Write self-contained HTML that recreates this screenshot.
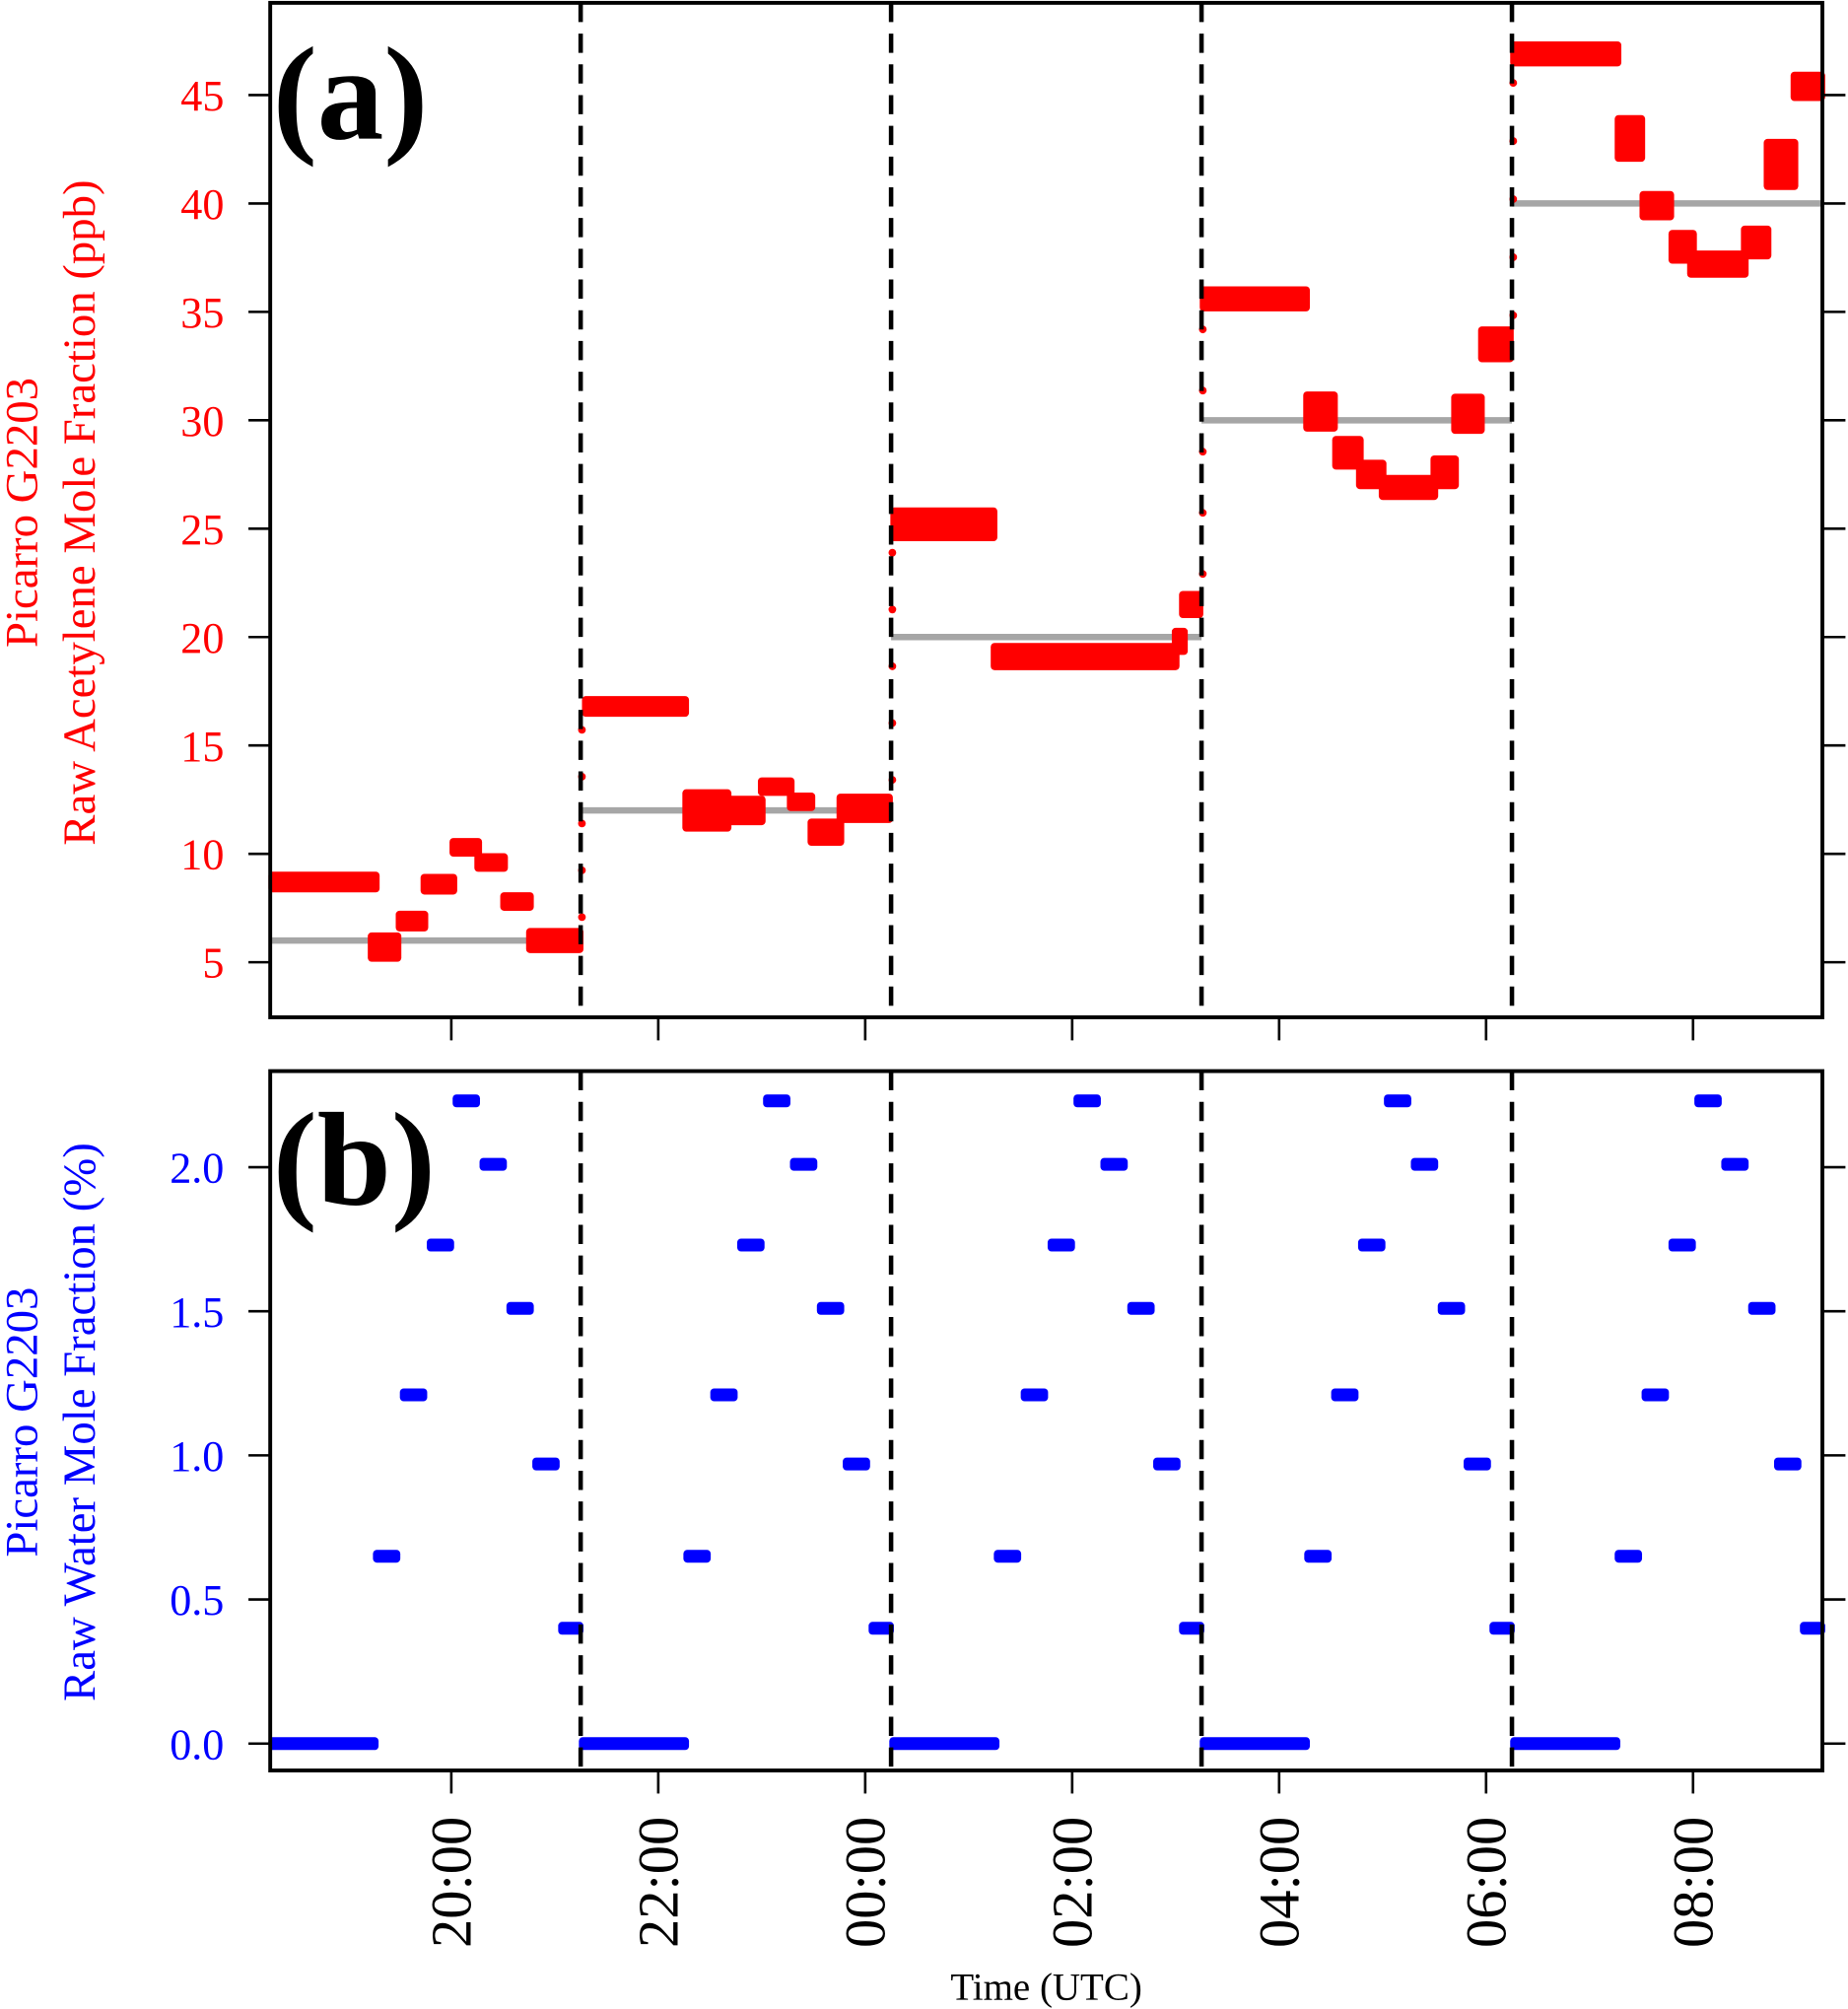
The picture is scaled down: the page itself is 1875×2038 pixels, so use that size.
<!DOCTYPE html>
<html><head><meta charset="utf-8"><style>
html,body{margin:0;padding:0;background:#fff}
svg{display:block}
text{font-family:"Liberation Serif",serif}
</style></head><body>
<svg id="chart" width="1875" height="2038" viewBox="0 0 1443 1568" xmlns="http://www.w3.org/2000/svg">
<g id="layer"></g>
</svg>
<script>
// ---- data ----
var xTickLabels = ["20:00","22:00","00:00","02:00","04:00","06:00","08:00"];
var xTickHours = [20,22,24,26,28,30,32];
var dashHours = [21.25,24.25,27.25,30.25];
var yTicksA = [5,10,15,20,25,30,35,40,45];
var yTicksB = [0.0,0.5,1.0,1.5,2.0];
var yTickLabelsB = ["0.0","0.5","1.0","1.5","2.0"];
// acetylene plateaus: start hour, end hour, value (ppb)
var acStart = [18.27,19.23,19.50,19.74,20.02,20.26,20.51,20.76, 21.30,22.27,22.68,23.00,23.28,23.48,23.76, 24.28,25.25,27.00,27.07, 27.27,28.27,28.55,28.78,29.00,29.50,29.70,29.96, 30.27,31.28,31.52,31.80,31.98,32.50,32.72,32.98];
var acEnd   = [19.27,19.48,19.74,20.02,20.26,20.51,20.76,21.24, 22.26,22.67,23.00,23.28,23.48,23.76,24.23, 25.24,27.00,27.08,27.23, 28.26,28.53,28.78,29.00,29.50,29.70,29.95,30.23, 31.27,31.50,31.78,32.00,32.50,32.72,32.98,33.24];
var acValue = [8.7,5.7,6.9,8.6,10.3,9.6,7.8,6.0, 16.8,12.0,12.0,13.1,12.4,11.0,12.1, 25.2,19.1,19.8,21.5, 35.6,30.4,28.5,27.5,26.9,27.6,30.3,33.5, 46.9,43.0,39.9,38.0,37.2,38.2,41.8,45.4];
var acSpread = [0.6,1.0,0.6,0.6,0.5,0.5,0.5,0.8, 0.6,1.6,1.0,0.5,0.5,0.9,1.0, 1.2,0.9,0.9,0.9, 0.8,1.5,1.2,1.0,0.8,1.2,1.5,1.3, 0.8,1.8,1.0,1.2,0.9,1.2,2.0,1.0];
// reference levels
var refStart = [18.25,21.25,24.25,27.25,30.25];
var refEnd = [21.25,24.25,27.25,30.25,33.25];
var refValue = [6,12,20,30,40];
// water steps per period (offset hours within period)
var periodStart = [18.25,21.25,24.25,27.25,30.25];
var waterOffStart = [0.02,1.03,1.29,1.55,1.80,2.06,2.32,2.57,2.82];
var waterOffEnd   = [1.01,1.22,1.48,1.74,1.99,2.25,2.51,2.76,2.99];
var waterValue = [0.00,0.65,1.21,1.73,2.23,2.01,1.51,0.97,0.40];

// ---- axes ----
var X0=211,X1=1423,T0=18.25,T1=33.25;
function xs(t){return X0+(t-T0)*(X1-X0)/(T1-T0);}
var A_top=2,A_bot=794;
function ya(v){return 751-(v-5)*(751-74)/40;}
var B_top=836,B_bot=1382;
function yb(v){return 1361-v*(1361-911)/2;}

var NS="http://www.w3.org/2000/svg";
var g=document.getElementById('layer');
function el(tag,attrs,parent){var e=document.createElementNS(NS,tag);for(var k in attrs)e.setAttribute(k,attrs[k]);(parent||g).appendChild(e);return e;}

for(var i=0;i<refValue.length;i++){
  var r=el('line',{x1:xs(refStart[i]),x2:xs(refEnd[i]),y1:ya(refValue[i]),y2:ya(refValue[i]),stroke:'#a6a6a6','stroke-width':5});
  
  
}
for(var i=0;i<acValue.length;i++){
  var h=Math.abs(ya(acValue[i]+acSpread[i]/2)-ya(acValue[i]-acSpread[i]/2))+6;
  var rc=el('rect',{x:xs(acStart[i])-3,y:ya(acValue[i])-h/2,width:xs(acEnd[i])-xs(acStart[i])+6,height:h,rx:3,fill:'#ff0000'});
  
  
}
for(var i=0;i<dashHours.length;i++){
  var lo=acValue[[7,14,18,26][i]], hi=acValue[[8,15,19,27][i]];
  for(var k=0;k<5;k++){
    var v=lo+(hi-lo)*(k+0.5)/5;
    var c=el('circle',{cx:xs(dashHours[i])+1,cy:ya(v),r:3,fill:'#ff0000'});
    
    
  }
}
for(var p=0;p<periodStart.length;p++){
  for(var i=0;i<waterValue.length;i++){
    var w=el('rect',{x:xs(periodStart[p]+waterOffStart[i])-3,y:yb(waterValue[i])-5,width:xs(periodStart[p]+waterOffEnd[i])-xs(periodStart[p]+waterOffStart[i])+6,height:10,rx:3,fill:'#0000ff'});
    
    
  }
}
for(var i=0;i<dashHours.length;i++){
  [[A_top,A_bot],[B_top,B_bot]].forEach(function(r){
    var d=el('line',{x1:xs(dashHours[i]),x2:xs(dashHours[i]),y1:r[0],y2:r[1],stroke:'#000','stroke-width':3.5,'stroke-dasharray':'15,9'});
    
    
  });
}
var fa=el('rect',{x:X0,y:A_top,width:X1-X0,height:A_bot-A_top,fill:'none',stroke:'#000','stroke-width':3});


var fb=el('rect',{x:X0,y:B_top,width:X1-X0,height:B_bot-B_top,fill:'none',stroke:'#000','stroke-width':3});


for(var i=0;i<yTicksA.length;i++){
  var y=ya(yTicksA[i]);
  el('line',{x1:X0-17,x2:X0,y1:y,y2:y,stroke:'#000','stroke-width':2});
  el('line',{x1:X1,x2:X1+18,y1:y,y2:y,stroke:'#000','stroke-width':2});
  var t=el('text',{x:X0-36,y:y+12,'text-anchor':'end','font-size':34,fill:'#ff0000'});
  t.textContent=yTicksA[i];
  
  
}
for(var i=0;i<yTicksB.length;i++){
  var y=yb(yTicksB[i]);
  el('line',{x1:X0-17,x2:X0,y1:y,y2:y,stroke:'#000','stroke-width':2});
  el('line',{x1:X1,x2:X1+18,y1:y,y2:y,stroke:'#000','stroke-width':2});
  var t=el('text',{x:X0-36,y:y+12,'text-anchor':'end','font-size':34,fill:'#0000ff'});
  t.textContent=yTickLabelsB[i];
  
  
}
for(var i=0;i<xTickHours.length;i++){
  var x=xs(xTickHours[i]);
  el('line',{x1:x,x2:x,y1:A_bot,y2:A_bot+18,stroke:'#000','stroke-width':2});
  el('line',{x1:x,x2:x,y1:B_bot,y2:B_bot+18,stroke:'#000','stroke-width':2});
  var t=el('text',{x:0,y:0,'text-anchor':'end','font-size':45,fill:'#000',transform:'translate('+(x+15)+',1418) rotate(-90)'});
  t.textContent=xTickLabels[i];
  
  
}
</script>
<svg style="position:absolute;left:0;top:0" width="1875" height="2038" viewBox="0 0 1443 1568">
<text x="213" y="108" font-size="104" font-weight="bold" fill="#000">(a)</text>
<text x="213" y="940" font-size="104" font-weight="bold" fill="#000">(b)</text>
<text transform="translate(29,400) rotate(-90)" text-anchor="middle" font-size="36" fill="#ff0000">Picarro G2203</text>
<text transform="translate(74,400) rotate(-90)" text-anchor="middle" font-size="36" fill="#ff0000">Raw Acetylene Mole Fraction (ppb)</text>
<text transform="translate(29,1110) rotate(-90)" text-anchor="middle" font-size="36" fill="#0000ff">Picarro G2203</text>
<text transform="translate(74,1110) rotate(-90)" text-anchor="middle" font-size="36" fill="#0000ff">Raw Water Mole Fraction (%)</text>
<text x="817" y="1561" text-anchor="middle" font-size="30" fill="#000">Time (UTC)</text>
</svg>
</body></html>
